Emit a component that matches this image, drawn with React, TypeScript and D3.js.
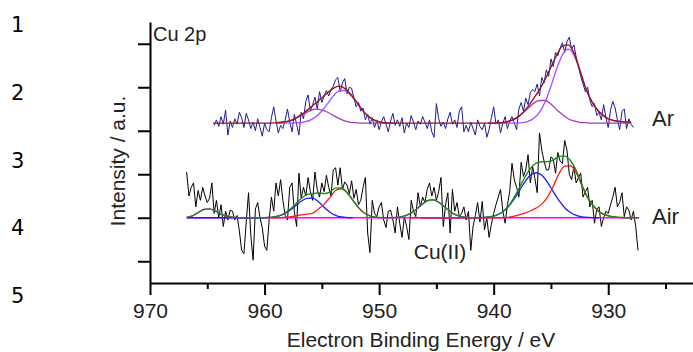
import * as d3 from "d3";
import React, { useEffect, useRef } from "react";

// x axis (binding energy, reversed) and unlabeled intensity axis
const xMajorTicks = [970, 960, 950, 940, 930];
const xMinorTicks = [965, 955, 945, 935, 925];
const yTicks = [20, 60, 100, 140, 180, 220];
const rowLabels = ["1", "2", "3", "4", "5"];

// raw spectra, 0.2 eV steps
const arRawStart = 964.4;
const airRawStart = 966.8;
const rawStep = 0.2;

const arRaw = [
  145, 150, 144, 153, 146, 159, 136, 149, 143, 151,
  146, 157, 152, 143, 156, 150, 142, 148, 140, 151,
  143, 135, 147, 141, 139, 152, 162, 149, 138, 145,
  142, 150, 160, 148, 139, 155, 146, 136, 157, 151,
  167, 173, 158, 164, 171, 160, 176, 166, 172, 177,
  172, 178, 181, 187, 189, 176, 184, 188, 174, 180,
  179, 170, 162, 166, 158, 161, 150, 155, 146, 152,
  143, 150, 141, 148, 153, 146, 139, 149, 156, 145,
  150, 144, 152, 138, 147, 143, 154, 148, 141, 149,
  146, 153, 148, 142, 150, 139, 134, 165, 151, 144,
  148, 142, 151, 157, 146, 150, 143, 158, 162, 139,
  145, 139, 148, 142, 136, 150, 144, 141, 147, 134,
  141, 152, 162, 146, 150, 138, 147, 153, 142, 149,
  153, 147, 141, 160, 166, 158, 170, 164, 175, 178,
  176, 183, 172, 189, 184, 196, 190, 206, 199, 212,
  209, 216, 221, 212, 222, 226, 215, 219, 208, 199,
  190, 183, 176, 180, 168, 162, 165, 154, 157, 150,
  164, 152, 143, 159, 167, 161, 150, 141, 158, 160,
  142, 151, 146, 143,
];

const airRaw = [
  102, 80, 88, 92, 70, 85, 76, 88, 80, 74,
  78, 92, 64, 76, 60, 72, 52, 66, 58, 67,
  66, 58, 62, 48, 30, 27, 56, 83, 44, 21,
  68, 74, 60, 51, 34, 30, 58, 79, 66, 92,
  80, 95, 76, 62, 58, 88, 92, 66, 52, 101,
  78, 88, 80, 97, 84, 76, 102, 86, 79, 92,
  84, 99, 88, 80, 104, 106, 90, 106, 86, 93,
  90, 82, 94, 78, 86, 72, 76, 88, 97, 46,
  28, 76, 64, 61, 70, 74, 58, 51, 66, 67,
  58, 46, 70, 55, 42, 61, 52, 40, 76, 66,
  61, 83, 70, 79, 74, 86, 92, 80, 88, 76,
  84, 97, 52, 72, 83, 46, 86, 66, 74, 61,
  64, 70, 58, 66, 30, 52, 62, 74, 56, 75,
  49, 60, 42, 54, 64, 72, 79, 86, 66, 55,
  72, 84, 110, 95, 88, 79, 111, 98, 104, 118,
  92, 107, 96, 83, 138, 122, 112, 104, 104, 116,
  114, 101, 120, 112, 110, 131, 122, 100, 95, 107,
  92, 97, 101, 79, 84, 88, 70, 76, 55, 68,
  70, 52, 60, 66, 64, 72, 79, 88, 70, 74,
  83, 61, 70, 67, 58, 66, 52, 30,
];

// fitted curves, 0.5 eV steps
const fitStep = 0.5;

// Ar sample
const arEnvelopeStart = 964.5;
const arEnvelope = [
  147, 147, 147, 147, 147, 147, 147, 147, 147, 147, 147,
  147.4, 147.8, 148.6, 150.2, 153.4, 157, 161.4, 165.8, 170.2, 175,
  179, 181, 179, 173.8, 167, 159.4, 153.8, 150.2, 148.2, 147.4,
  147, 147, 147, 147, 147, 147, 147, 147, 147, 147,
  147, 147, 147, 147, 147, 147, 147, 147, 147,
  147.4, 147.8, 149.4, 151.8, 156.2, 162.2, 169.8, 177.8, 187.4, 198.6,
  209.4, 217.8, 219, 211.8, 196.6, 180.2, 168.2, 159.8, 154.6, 151,
  149.4, 148.6, 148.2, 147.8,
];
const arLowStart = 959;
const arLowShoulder = [
  147.4, 147.8, 148.6, 150.2, 153, 155.8, 158.6, 159.8, 159, 157, 154.2,
  151.4, 149, 147.8, 147.4, 147, 147, 147, 147, 147, 147, 147,
];
const arLowMain = [
  147, 147, 147, 147, 147.4, 148.2, 149.8, 153, 158.2, 165, 171.8,
  176.6, 177, 173, 166.6, 159.4, 153.8, 150.2, 148.2, 147.4, 147, 147,
];
const arHighStart = 940.5;
const arHighShoulder = [
  147, 147, 147.4, 147.8, 149.4, 151.8, 155.8, 160.6, 165.4, 167.8, 167.8,
  164.6, 159.4, 155, 151, 149, 147.8, 147.4, 147, 147, 147, 147, 147, 147,
  147, 147,
];
const arHighMain = [
  147, 147, 147, 147, 147, 147, 147.4, 148.6, 151.4, 157, 166.6, 181, 197,
  209.8, 215, 209.8, 195.8, 179.8, 168.2, 159.8, 154.6, 151, 149.4, 148.6,
  148.2, 147.8,
];

// Air sample
const airBackground = 60;
const airFitStart = 966.8;
const airFitEnd = 927.3;
const airEnvelope = [
  60.4, 61.8, 64.8, 67.6, 68.2, 66.2, 63.4, 61.4, 60.5, 60.1,
  60, 60, 60, 60, 60.2, 60.6, 61.6, 63.9, 67.6, 72.5,
  77.7, 81.3, 82.1, 82.8, 82.2, 83.6, 87.2, 87.3, 83.2, 76.3,
  69.3, 64.4, 61.7, 60.5, 60.1, 60, 60.1, 60.5, 61.6, 63.8,
  67.4, 71.9, 75.6, 76.5, 74.3, 70.1, 65.8, 62.7, 61, 60.3,
  60.1, 60.1, 60.3, 60.9, 62.2, 64.8, 69.5, 77.1, 86.7, 96.8,
  105.2, 110.2, 111.5, 111.6, 113.1, 116.4, 116.7, 112.6, 103.7, 90.4,
  78.8, 71.1, 65.6, 62.8, 61.3, 60.6, 60.2, 60, 60, 60,
];
const airSat1Start = 966.8;
const airSat1 = [60.4, 61.8, 64.8, 67.6, 68.2, 66.2, 63.4, 61.4, 60.5, 60.1, 60, 60, 60];
const airBlue1Start = 966.8;
const airBlue1 = [
  60, 60, 60, 60, 60, 60, 60, 60, 60, 60, 60, 60, 60, 60,
  60.2, 60.6, 61.6, 63.6, 66.8, 70.9, 75.1, 77.9, 78.1, 74.8, 69.7, 65.1,
  62.2, 60.7, 60.2, 60,
];
const airRed1Start = 959.8;
const airRed1 = [
  60, 60, 60, 60.3, 60.8, 61.6, 62.6, 63.4, 64, 68, 72.5, 78.5, 85, 86.6,
  83, 76.3, 69.3, 64.4, 61.7, 60.5,
];
const airSat2Start = 949.8;
const airSat2 = [
  60, 60, 60.1, 60.5, 61.6, 63.8, 67.4, 71.9, 75.6, 76.5, 74.3, 70.1, 65.8,
  62.7, 61, 60.3, 60.1, 60,
];
const airBlue2Start = 946.3;
const airBlue2 = [
  60, 60, 60, 60, 60, 60, 60, 60, 60, 60,
  60.1, 60.3, 60.9, 62.2, 64.8, 69.2, 75.9, 84.1, 92.6, 99, 101.4, 99,
  92.6, 84.1, 75.9, 69.2, 64.8, 62.2, 60.9, 60.3, 60.1, 60,
];
const airRed2Start = 947.3;
const airRed2 = [
  60, 60, 60, 60, 60, 60, 60, 60, 60, 60, 60, 60, 60, 60, 60, 60, 60,
  60.3, 61.2, 62.6, 64.2, 66.2, 68.8, 72.5, 79, 89, 100.5, 107.5, 107.8,
  101.5, 89.5, 78.5, 71, 65.6, 62.8, 61.3, 60.6, 60.2, 60, 60,
];

const toPoints = (start, step, values) => values.map((v, i) => [start - step * i, v]);

export default function App() {
  const svgRef = useRef(null);
  const width = 693;
  const height = 352;
  const margin = { top: 22, right: 0, bottom: 69, left: 150 };

  useEffect(() => {
    const svgEl = d3.select(svgRef.current);
    svgEl.selectAll("*").remove();

    const x = d3
      .scaleLinear()
      .domain([970, 922.6])
      .range([margin.left, width - margin.right]);
    const y = d3
      .scaleLinear()
      .domain([0, 240])
      .range([height - margin.bottom, margin.top]);

    const line = d3
      .line()
      .x((d) => x(d[0]))
      .y((d) => y(d[1]));
    const smooth = d3
      .line()
      .curve(d3.curveMonotoneX)
      .x((d) => x(d[0]))
      .y((d) => y(d[1]));

    const textFont = "Liberation Sans, Arial, sans-serif";

    const draw = (pts, color, gen, w) =>
      svgEl
        .append("path")
        .datum(pts)
        .attr("fill", "none")
        .attr("stroke", color)
        .attr("stroke-width", w)
        .attr("stroke-linejoin", "round")
        .attr("d", gen);

    // Ar spectrum
    draw(toPoints(arRawStart, rawStep, arRaw), "#1c1c96", line, 1);
    draw(toPoints(arLowStart, fitStep, arLowShoulder), "#a23cb8", smooth, 1.3);
    draw(toPoints(arLowStart, fitStep, arLowMain), "#a64dff", smooth, 1.3);
    draw(toPoints(arHighStart, fitStep, arHighShoulder), "#a23cb8", smooth, 1.3);
    draw(toPoints(arHighStart, fitStep, arHighMain), "#a64dff", smooth, 1.3);
    draw(toPoints(arEnvelopeStart, fitStep, arEnvelope), "#9a1414", smooth, 1.4);

    // Air spectrum
    draw(toPoints(airRawStart, rawStep, airRaw), "#000000", line, 1);
    draw(
      [
        [airFitStart, airBackground],
        [airFitEnd, airBackground],
      ],
      "#ff00ff",
      line,
      1.3
    );
    draw(toPoints(airSat1Start, fitStep, airSat1), "#ff00ff", smooth, 1.3);
    draw(toPoints(airSat2Start, fitStep, airSat2), "#ff00ff", smooth, 1.3);
    draw(toPoints(airBlue1Start, fitStep, airBlue1), "#1a1aff", smooth, 1.3);
    draw(toPoints(airRed1Start, fitStep, airRed1), "#ff1a1a", smooth, 1.3);
    draw(toPoints(airBlue2Start, fitStep, airBlue2), "#1a1aff", smooth, 1.3);
    draw(toPoints(airRed2Start, fitStep, airRed2), "#ff1a1a", smooth, 1.3);
    draw(toPoints(airFitStart, fitStep, airEnvelope), "#168c16", smooth, 1.4);

    /* X AXIS */
    const xAxis = svgEl
      .append("g")
      .attr("transform", "translate(0," + (height - margin.bottom) + ")")
      .call(
        d3
          .axisBottom(x)
          .tickValues(xMajorTicks)
          .tickSize(12)
          .tickSizeOuter(0)
          .tickPadding(8)
          .tickFormat(d3.format("d"))
      );
    svgEl
      .append("g")
      .attr("transform", "translate(0," + (height - margin.bottom) + ")")
      .call(d3.axisBottom(x).tickValues(xMinorTicks).tickSize(6).tickSizeOuter(0).tickFormat(() => ""))
      .select(".domain")
      .remove();

    /* Y AXIS */
    const yAxis = svgEl
      .append("g")
      .attr("transform", "translate(" + margin.left + ",0)")
      .call(d3.axisLeft(y).tickValues(yTicks).tickSize(12).tickSizeOuter(0).tickFormat(() => ""));

    svgEl.selectAll(".domain").attr("stroke", "#000").attr("stroke-width", 2);
    svgEl.selectAll(".tick line").attr("stroke", "#000").attr("stroke-width", 2);
    xAxis
      .selectAll("text")
      .attr("font-family", textFont)
      .attr("font-size", 21)
      .attr("fill", "#222");

    // titles and labels
    svgEl
      .append("text")
      .attr("x", 421)
      .attr("y", 347)
      .attr("text-anchor", "middle")
      .attr("font-family", textFont)
      .attr("font-size", 21)
      .attr("fill", "#222")
      .text("Electron Binding Energy / eV");

    svgEl
      .append("text")
      .attr("transform", "translate(125,161) rotate(-90)")
      .attr("text-anchor", "middle")
      .attr("font-family", textFont)
      .attr("font-size", 21)
      .attr("fill", "#222")
      .text("Intensity / a.u.");

    const label = (txt, lx, ly, size, anchor) =>
      svgEl
        .append("text")
        .attr("x", lx)
        .attr("y", ly)
        .attr("text-anchor", anchor)
        .attr("font-family", textFont)
        .attr("font-size", size)
        .attr("fill", "#222")
        .text(txt);

    label("Cu 2p", 153, 41, 20, "start");
    label("Ar", 652, 126, 22, "start");
    label("Air", 652, 224, 22, "start");
    label("Cu(II)", 440, 259, 21, "middle");

    // panel numbers on the far left
    rowLabels.forEach((t, i) => {
      svgEl
        .append("text")
        .attr("x", 11)
        .attr("y", 32 + i * 67.75)
        .attr("font-family", "DejaVu Sans, sans-serif")
        .attr("font-size", 21)
        .attr("fill", "#000")
        .text(t);
    });
  });

  return (
    <div style={{ position: "absolute", left: 0, top: 0 }}>
      <svg width={width} height={height} ref={svgRef}></svg>
    </div>
  );
}
